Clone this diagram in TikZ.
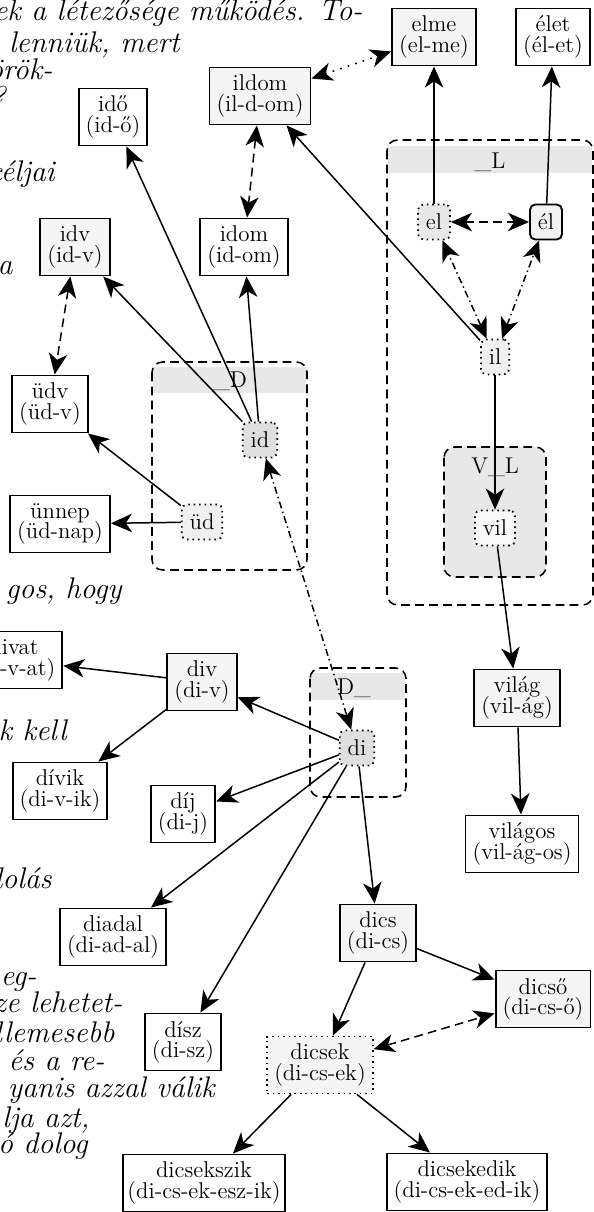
\documentclass[tikz,border=0pt]{standalone}
\usepackage{tikz}
\usetikzlibrary{arrows.meta}

\begin{document}
\begin{tikzpicture}[x=0.02cm, y=-0.02cm,
            box/.style={draw, line width=1.1pt, align=center, inner xsep=4pt, inner ysep=0pt,
                minimum height=1.14cm, font=\fontsize{13}{11.5}\selectfont,
                execute at begin node={\setlength{\lineskiplimit}{-5pt}}},
            lightbox/.style={box, fill=gray!8},
            stem/.style={draw, line width=1pt, dash pattern=on 0.9pt off 2.2pt, rounded corners=3pt,
                minimum height=0.7cm, inner xsep=4.5pt, inner ysep=0pt, font=\fontsize{13}{11.5}\selectfont},
            group/.style={dashed, dash pattern=on 5pt off 3pt, line width=0.9pt, rounded corners=6pt},
            grouplabel/.style={inner sep=0pt, font=\fontsize{13}{11.5}\selectfont},
            prose/.style={inner sep=0pt, font=\fontsize{17}{20}\selectfont\itshape},
            arr/.style={-{Stealth[length=12pt, width=10.5pt, inset=3.5pt]}, line width=0.85pt},
            twoway/.style={{Stealth[length=12pt, width=10.5pt, inset=3.5pt]}-{Stealth[length=12pt, width=10.5pt, inset=3.5pt]}, line width=0.85pt},
            dashline/.style={dash pattern=on 5pt off 3pt},
            dashdot/.style={dash pattern=on 4pt off 2pt on 0.8pt off 2pt},
            dotline/.style={dash pattern=on 1pt off 3.5pt}]
            \useasboundingbox (0,0) rectangle (594,1212);

            % page text behind the picture
            \node[prose, anchor=base east] (p1) at (363,21) {ek a létezősége működés. To-};
            \node[prose, anchor=base east] (p2) at (180,53) {lenniük, mert};
            \node[prose, anchor=base east] (p3) at (53,80) {örök-};
            \node[prose, anchor=base east] (p4) at (6,108) {?};
            \node[prose, anchor=base east] (p5) at (55,182) {céljai};
            \node[prose, anchor=base east] (p6) at (13,275) {a};
            \node[prose, anchor=base east] (p7) at (122,598) {gos, hogy};
            \node[prose, anchor=base east] (p8) at (67,740) {k kell};
            \node[prose, anchor=base east] (p9) at (52,888) {dolás};
            \node[prose, anchor=base east] (p10) at (37,985) {eg-};
            \node[prose, anchor=base east] (p11) at (123,1012) {ze lehetet-};
            \node[prose, anchor=base east] (p12) at (115,1042) {llemesebb};
            \node[prose, anchor=base east] (p13) at (105,1070) {s, és a re-};
            \node[prose, anchor=base east] (p14) at (215,1097) {yanis azzal válik};
            \node[prose, anchor=base east] (p15) at (90,1127) {lja azt,};
            \node[prose, anchor=base east] (p16) at (88,1153) {ó dolog};

            % groups
            \fill[gray!18] (388,146) rectangle (592,173);
            \draw[group] (387,140) rectangle (593,605);
            \node[grouplabel] (Lname) at (490,162) {\_L};
            \filldraw[group, fill=gray!18] (444,447) rectangle (546,577);
            \node[grouplabel] (VLname) at (495,467) {V\_L};
            \fill[gray!18] (153,367) rectangle (306,393);
            \draw[group] (152,362) rectangle (307,570);
            \node[grouplabel] (Dname) at (230,381) {\_D};
            \fill[gray!18] (311,673) rectangle (405,700);
            \draw[group] (310,668) rectangle (406,797);
            \node[grouplabel] (Dname2) at (354,688) {D\_};

            % words
            \node[lightbox] (elme) at (434,37) {elme\\(el-me)};
            \node[box] (elet) at (553,37) {élet\\(él-et)};
            \node[lightbox] (ildom) at (260,96) {ildom\\(il-d-om)};
            \node[box] (ido) at (113,117) {idő\\(id-ő)};
            \node[lightbox] (idv) at (75,247) {idv\\(id-v)};
            \node[box] (idom) at (244,247) {idom\\(id-om)};
            \node[box] (udv) at (50,404) {üdv\\(üd-v)};
            \node[box] (unnep) at (60,524) {ünnep\\(üd-nap)};
            \node[lightbox] (vilag) at (517,698) {világ\\(vil-ág)};
            \node[box] (vilagos) at (522,844) {világos\\(vil-ág-os)};
            \node[lightbox] (div) at (202,682) {div\\(di-v)};
            \node[box] (divat) at (14,660) {divat\\(di-v-at)};
            \node[box] (divik) at (60,791) {dívik\\(di-v-ik)};
            \node[box] (dij) at (183,814) {díj\\(di-j)};
            \node[box] (diadal) at (113,937) {diadal\\(di-ad-al)};
            \node[box] (disz) at (183,1042) {dísz\\(di-sz)};
            \node[lightbox] (dics) at (378,933) {dics\\(di-cs)};
            \node[lightbox] (dicso) at (543,999) {dicső\\(di-cs-ő)};
            \node[lightbox, line width=1pt, dash pattern=on 0.9pt off 2.2pt] (dicsek) at (320,1065) {dicsek\\(di-cs-ek)};
            \node[box, inner xsep=2.5pt] (dicsekszik) at (204,1183) {dicsekszik\\(di-cs-ek-esz-ik)};
            \node[box] (dicsekedik) at (467,1182) {dicsekedik\\(di-cs-ek-ed-ik)};

            % stems
            \node[stem, fill=gray!18] (el) at (434,222) {el};
            \node[stem, fill=gray!10, solid, line width=1.1pt] (El) at (546,222) {él};
            \node[stem, fill=gray!12] (il) at (495,357) {il};
            \node[stem, fill=gray!5] (vil) at (495,528) {vil};
            \node[stem, fill=gray!25] (id) at (260,440) {id};
            \node[stem, fill=gray!12] (ud) at (202,522) {üd};
            \node[stem, fill=gray!25] (di) at (357,748) {di};

            \draw[arr] (el) -- (elme);
            \draw[arr] (El) -- (elet);
            \draw[twoway, dotline] (ildom) -- (elme);
            \draw[twoway, dashline] (el) -- (El);
            \draw[twoway, dashdot] (il) -- (el);
            \draw[twoway, dashdot] (il) -- (El);
            \draw[arr] (il) -- (ildom);
            \draw[arr] (il) -- (vil);
            \draw[arr] (vil) -- (vilag);
            \draw[arr] (vilag) -- (vilagos);
            \draw[arr] (id) -- (ido);
            \draw[arr] (id) -- (idv);
            \draw[arr] (id) -- (idom);
            \draw[twoway, dashline] (ildom) -- (idom);
            \draw[twoway, dashline] (idv) -- (udv);
            \draw[arr] (ud) -- (udv);
            \draw[arr] (ud) -- (unnep);
            \draw[twoway, dashdot] (id) -- (di);
            \draw[arr] (di) -- (div);
            \draw[arr] (div) -- (divat);
            \draw[arr] (div) -- (divik);
            \draw[arr] (di) -- (dij);
            \draw[arr] (di) -- (diadal);
            \draw[arr] (di) -- (disz);
            \draw[arr] (di) -- (dics);
            \draw[arr] (dics) -- (dicso);
            \draw[arr] (dics) -- (dicsek);
            \draw[twoway, dashline] (dicsek) -- (dicso);
            \draw[arr] (dicsek) -- (dicsekszik);
            \draw[arr] (dicsek) -- (dicsekedik);
        \end{tikzpicture}
\end{document}
